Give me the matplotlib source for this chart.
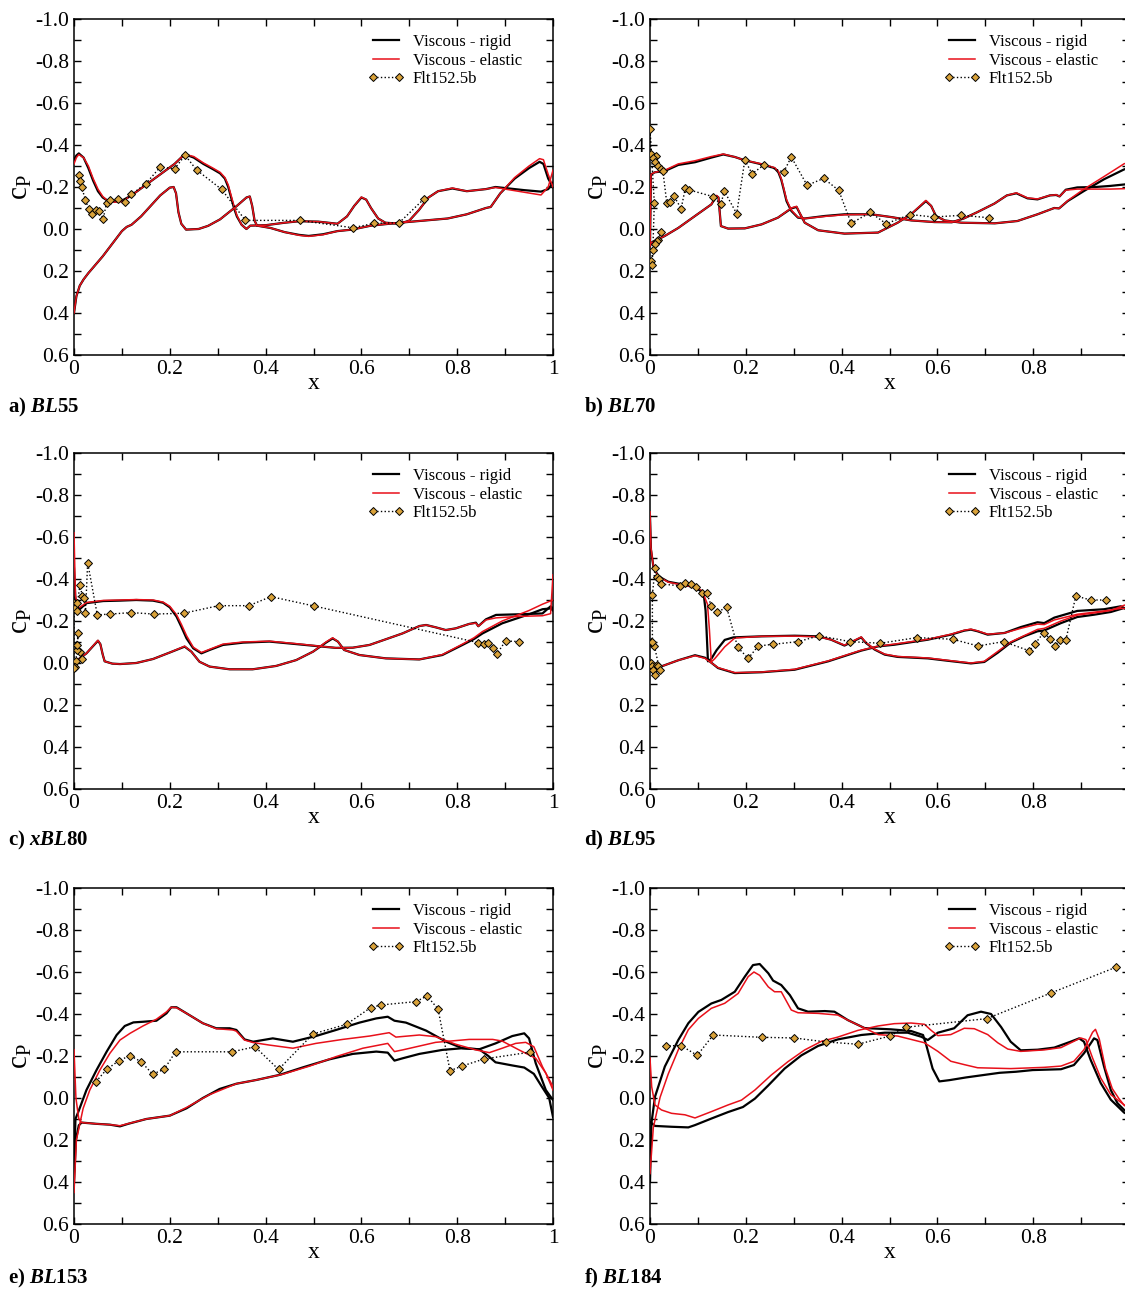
import numpy as np
import matplotlib
matplotlib.use("Agg")
import matplotlib.pyplot as plt
from matplotlib.lines import Line2D
from matplotlib.ticker import MultipleLocator, FuncFormatter

plt.rcParams["font.family"] = ["Liberation Serif", "DejaVu Serif"]
plt.rcParams["mathtext.fontset"] = "custom"
plt.rcParams["mathtext.rm"] = "Liberation Serif"
plt.rcParams["mathtext.it"] = "Liberation Serif:italic"
plt.rcParams["mathtext.bf"] = "Liberation Serif:bold"
plt.rcParams["mathtext.bfit"] = "Liberation Serif:bold:italic"
plt.rcParams["axes.unicode_minus"] = False

# ---- panel a) BL55 -------------------------------------------------------
A_RIG_S1 = [(0.0, -0.33), (0.005, -0.35), (0.01, -0.36), (0.02, -0.34), (0.03, -0.29), (0.04, -0.23),
            (0.05, -0.18), (0.06, -0.15), (0.07, -0.135), (0.085, -0.13), (0.1, -0.135), (0.12, -0.16),
            (0.15, -0.21), (0.18, -0.26), (0.21, -0.31), (0.231, -0.356), (0.25, -0.34), (0.27, -0.31),
            (0.29, -0.285), (0.305, -0.265), (0.315, -0.24), (0.322, -0.2), (0.328, -0.15), (0.334, -0.1),
            (0.34, -0.06), (0.35, -0.02), (0.36, 0.0), (0.368, -0.016), (0.40, -0.018), (0.44, -0.03),
            (0.47, -0.037), (0.51, -0.035), (0.55, -0.025), (0.57, -0.06), (0.585, -0.11), (0.6, -0.15),
            (0.61, -0.14), (0.62, -0.1), (0.635, -0.05), (0.65, -0.03), (0.68, -0.025), (0.7, -0.04),
            (0.72, -0.09), (0.74, -0.15), (0.76, -0.18), (0.79, -0.193), (0.82, -0.18), (0.84, -0.185),
            (0.86, -0.19), (0.88, -0.2), (0.9, -0.195), (0.94, -0.185), (0.975, -0.178), (0.99, -0.19),
            (1.0, -0.22)]
A_RIG_S2 = [(0.0, 0.4), (0.005, 0.32), (0.012, 0.27), (0.02, 0.24), (0.03, 0.21), (0.045, 0.17), (0.06, 0.13),
            (0.08, 0.07), (0.1, 0.01), (0.11, -0.01), (0.12, -0.02), (0.14, -0.06), (0.16, -0.11), (0.18, -0.16),
            (0.2, -0.197), (0.208, -0.2), (0.213, -0.17), (0.218, -0.08), (0.224, -0.025), (0.234, 0.003),
            (0.26, 0.0), (0.28, -0.015), (0.305, -0.046), (0.34, -0.11), (0.36, -0.15), (0.367, -0.155),
            (0.372, -0.11), (0.377, -0.04), (0.382, -0.016), (0.41, -0.005), (0.44, 0.015), (0.47, 0.028),
            (0.49, 0.033), (0.52, 0.025), (0.55, 0.01), (0.58, 0.003), (0.62, -0.016), (0.68, -0.03),
            (0.73, -0.04), (0.78, -0.05), (0.82, -0.07), (0.86, -0.1), (0.87, -0.105), (0.89, -0.17),
            (0.92, -0.24), (0.95, -0.29), (0.972, -0.32), (0.98, -0.31), (0.99, -0.24), (1.0, -0.2)]
A_ELA_S1 = [(0.0, -0.31), (0.005, -0.34), (0.01, -0.355), (0.02, -0.34), (0.03, -0.3), (0.04, -0.24),
            (0.05, -0.19), (0.06, -0.155), (0.07, -0.135), (0.085, -0.128), (0.1, -0.13), (0.12, -0.16),
            (0.15, -0.21), (0.18, -0.26), (0.21, -0.31), (0.231, -0.356), (0.25, -0.345), (0.27, -0.315),
            (0.29, -0.29), (0.305, -0.27), (0.315, -0.245), (0.322, -0.21), (0.328, -0.16), (0.334, -0.11),
            (0.34, -0.065), (0.35, -0.02), (0.36, 0.0), (0.368, -0.016), (0.40, -0.018), (0.44, -0.03),
            (0.47, -0.037), (0.51, -0.035), (0.55, -0.025), (0.57, -0.06), (0.585, -0.11), (0.6, -0.152),
            (0.61, -0.14), (0.62, -0.1), (0.635, -0.05), (0.65, -0.03), (0.68, -0.025), (0.7, -0.04),
            (0.72, -0.09), (0.74, -0.15), (0.76, -0.18), (0.79, -0.195), (0.82, -0.18), (0.84, -0.185),
            (0.86, -0.19), (0.88, -0.198), (0.9, -0.19), (0.94, -0.175), (0.975, -0.162), (0.99, -0.2),
            (1.0, -0.28)]
A_ELA_S2 = [(0.0, 0.4), (0.005, 0.32), (0.012, 0.27), (0.02, 0.24), (0.03, 0.21), (0.045, 0.17), (0.06, 0.13),
            (0.08, 0.07), (0.1, 0.01), (0.11, -0.01), (0.12, -0.02), (0.14, -0.06), (0.16, -0.11), (0.18, -0.16),
            (0.2, -0.197), (0.208, -0.2), (0.213, -0.17), (0.218, -0.08), (0.224, -0.025), (0.234, 0.003),
            (0.26, 0.0), (0.28, -0.015), (0.305, -0.046), (0.34, -0.11), (0.36, -0.15), (0.367, -0.155),
            (0.372, -0.11), (0.377, -0.04), (0.382, -0.016), (0.41, -0.005), (0.44, 0.015), (0.47, 0.03),
            (0.49, 0.035), (0.52, 0.027), (0.55, 0.01), (0.58, 0.003), (0.62, -0.016), (0.68, -0.03),
            (0.73, -0.04), (0.78, -0.05), (0.82, -0.07), (0.86, -0.1), (0.87, -0.105), (0.89, -0.17),
            (0.92, -0.245), (0.95, -0.3), (0.972, -0.335), (0.98, -0.33), (0.99, -0.26), (1.0, -0.2)]
A_EXP = [(0.010, -0.256), (0.0125, -0.229), (0.016, -0.2), (0.024, -0.137), (0.031, -0.094), (0.038, -0.073),
         (0.045, -0.089), (0.053, -0.086), (0.061, -0.049), (0.068, -0.125), (0.076, -0.14), (0.091, -0.141),
         (0.106, -0.13), (0.12, -0.165), (0.15, -0.216), (0.18, -0.295), (0.21, -0.287), (0.232, -0.351),
         (0.256, -0.281), (0.308, -0.189), (0.358, -0.041), (0.471, -0.041), (0.582, -0.006), (0.627, -0.027),
         (0.679, -0.03), (0.731, -0.144)]

# ---- panel b) BL70 -------------------------------------------------------
B_RIG_S1 = [(0.0, 0.08), (0.002, -0.26), (0.01, -0.27), (0.031, -0.276), (0.059, -0.305), (0.094, -0.318),
            (0.128, -0.34), (0.153, -0.355), (0.177, -0.343), (0.198, -0.327), (0.233, -0.308), (0.26, -0.29),
            (0.268, -0.27), (0.274, -0.235), (0.279, -0.19), (0.285, -0.133), (0.295, -0.086), (0.309, -0.054),
            (0.323, -0.05), (0.365, -0.062), (0.406, -0.07), (0.462, -0.07), (0.503, -0.057), (0.545, -0.041),
            (0.594, -0.033), (0.63, -0.032), (0.655, -0.05), (0.684, -0.081), (0.719, -0.121), (0.745, -0.16),
            (0.765, -0.17), (0.788, -0.146), (0.809, -0.141), (0.835, -0.16), (0.848, -0.162), (0.855, -0.155),
            (0.868, -0.187), (0.892, -0.198), (0.93, -0.2), (0.96, -0.205), (0.99, -0.212), (1.0, -0.215)]
B_RIG_S2 = [(0.0, 0.08), (0.003, 0.065), (0.031, 0.033), (0.059, -0.005), (0.094, -0.062), (0.128, -0.117),
            (0.139, -0.157), (0.143, -0.15), (0.148, -0.014), (0.163, -0.002), (0.198, -0.003), (0.233, -0.022),
            (0.267, -0.054), (0.295, -0.098), (0.306, -0.105), (0.312, -0.078), (0.323, -0.03), (0.351, 0.006),
            (0.406, 0.022), (0.476, 0.017), (0.517, -0.03), (0.545, -0.07), (0.576, -0.133), (0.587, -0.11),
            (0.597, -0.062), (0.615, -0.041), (0.65, -0.03), (0.72, -0.027), (0.767, -0.038), (0.809, -0.07),
            (0.844, -0.1), (0.854, -0.098), (0.872, -0.133), (0.906, -0.181), (0.948, -0.237), (0.99, -0.284),
            (1.0, -0.29)]
B_ELA_S1 = [(0.0, 0.08), (0.002, -0.26), (0.01, -0.27), (0.031, -0.28), (0.059, -0.31), (0.094, -0.325),
            (0.128, -0.345), (0.153, -0.357), (0.177, -0.343), (0.198, -0.327), (0.233, -0.31), (0.26, -0.292),
            (0.268, -0.275), (0.274, -0.24), (0.279, -0.195), (0.285, -0.14), (0.295, -0.09), (0.309, -0.056),
            (0.323, -0.05), (0.365, -0.06), (0.406, -0.068), (0.462, -0.07), (0.503, -0.057), (0.545, -0.041),
            (0.594, -0.033), (0.63, -0.032), (0.655, -0.05), (0.684, -0.081), (0.719, -0.121), (0.745, -0.16),
            (0.765, -0.172), (0.788, -0.148), (0.809, -0.143), (0.835, -0.16), (0.848, -0.163), (0.855, -0.155),
            (0.868, -0.185), (0.892, -0.19), (0.93, -0.19), (0.96, -0.19), (0.99, -0.192), (1.0, -0.195)]
B_ELA_S2 = [(0.0, 0.08), (0.003, 0.065), (0.031, 0.033), (0.059, -0.005), (0.094, -0.062), (0.128, -0.117),
            (0.139, -0.16), (0.143, -0.15), (0.148, -0.014), (0.163, -0.002), (0.198, -0.003), (0.233, -0.022),
            (0.267, -0.054), (0.295, -0.1), (0.306, -0.108), (0.312, -0.08), (0.323, -0.03), (0.351, 0.006),
            (0.406, 0.022), (0.476, 0.017), (0.517, -0.03), (0.545, -0.07), (0.576, -0.136), (0.587, -0.11),
            (0.597, -0.062), (0.615, -0.041), (0.65, -0.03), (0.72, -0.027), (0.767, -0.038), (0.809, -0.07),
            (0.844, -0.1), (0.854, -0.098), (0.872, -0.135), (0.906, -0.19), (0.948, -0.25), (0.99, -0.311),
            (1.0, -0.315)]
B_EXP = [(0.023, 0.013), (0.017, 0.054), (0.014, 0.057), (0.010, 0.073), (0.007, 0.098), (0.002, 0.152),
         (0.005, 0.171), (0.009, -0.125), (0.0, -0.475), (0.002, -0.356), (0.012, -0.348), (0.007, -0.34),
         (0.010, -0.317), (0.017, -0.302), (0.024, -0.286), (0.027, -0.274), (0.035, -0.125), (0.042, -0.128),
         (0.05, -0.157), (0.065, -0.097), (0.074, -0.197), (0.082, -0.186), (0.132, -0.154), (0.148, -0.117),
         (0.155, -0.181), (0.181, -0.073), (0.198, -0.329), (0.213, -0.263), (0.238, -0.305), (0.279, -0.271),
         (0.295, -0.343), (0.328, -0.208), (0.3625, -0.241), (0.394, -0.184), (0.42, -0.027), (0.46, -0.079),
         (0.493, -0.025), (0.543, -0.069), (0.592, -0.057), (0.649, -0.065), (0.707, -0.054)]

# ---- panel c) xBL80 ------------------------------------------------------
C_RIG_S1 = [(0.0, -0.45), (0.003, -0.3), (0.009, -0.25), (0.026, -0.285), (0.061, -0.295), (0.096, -0.297),
            (0.13, -0.3), (0.165, -0.297), (0.186, -0.287), (0.2, -0.265), (0.214, -0.221), (0.224, -0.173),
            (0.235, -0.117), (0.249, -0.07), (0.266, -0.046), (0.283, -0.062), (0.311, -0.086), (0.353, -0.097),
            (0.408, -0.102), (0.464, -0.09), (0.505, -0.081), (0.547, -0.072), (0.582, -0.073), (0.617, -0.086),
            (0.651, -0.113), (0.686, -0.141), (0.721, -0.176), (0.735, -0.181), (0.755, -0.17), (0.776, -0.157),
            (0.797, -0.165), (0.825, -0.186), (0.839, -0.192), (0.844, -0.175), (0.86, -0.208), (0.881, -0.229),
            (0.929, -0.232), (0.978, -0.236), (0.995, -0.27), (1.0, -0.26)]
C_RIG_S2 = [(0.0, 0.02), (0.005, -0.01), (0.026, -0.046), (0.05, -0.106), (0.055, -0.09), (0.06, -0.04),
            (0.064, -0.008), (0.08, 0.003), (0.096, 0.005), (0.13, 0.0), (0.165, -0.019), (0.2, -0.05),
            (0.231, -0.078), (0.245, -0.054), (0.262, -0.006), (0.283, 0.017), (0.325, 0.03), (0.373, 0.03),
            (0.422, 0.014), (0.464, -0.014), (0.499, -0.054), (0.526, -0.097), (0.54, -0.117), (0.551, -0.102),
            (0.564, -0.062), (0.596, -0.038), (0.651, -0.022), (0.721, -0.017), (0.769, -0.038), (0.811, -0.086),
            (0.835, -0.114), (0.853, -0.141), (0.894, -0.189), (0.95, -0.232), (0.978, -0.256), (0.995, -0.26),
            (1.0, -0.25)]
C_ELA_S1 = [(0.0, -0.62), (0.003, -0.32), (0.009, -0.26), (0.026, -0.288), (0.061, -0.298), (0.096, -0.3),
            (0.13, -0.302), (0.165, -0.3), (0.186, -0.29), (0.2, -0.27), (0.214, -0.23), (0.224, -0.185),
            (0.235, -0.13), (0.249, -0.075), (0.266, -0.05), (0.283, -0.065), (0.311, -0.09), (0.353, -0.1),
            (0.408, -0.104), (0.464, -0.092), (0.505, -0.082), (0.547, -0.072), (0.582, -0.073), (0.617, -0.086),
            (0.651, -0.113), (0.686, -0.141), (0.721, -0.176), (0.735, -0.181), (0.755, -0.17), (0.776, -0.157),
            (0.797, -0.165), (0.825, -0.186), (0.839, -0.19), (0.844, -0.175), (0.86, -0.205), (0.881, -0.215),
            (0.929, -0.222), (0.978, -0.225), (0.995, -0.235), (1.0, -0.42)]
C_ELA_S2 = [(0.0, 0.02), (0.005, -0.01), (0.026, -0.046), (0.05, -0.108), (0.055, -0.09), (0.06, -0.04),
            (0.064, -0.008), (0.08, 0.003), (0.096, 0.005), (0.13, 0.0), (0.165, -0.019), (0.2, -0.05),
            (0.231, -0.08), (0.245, -0.054), (0.262, -0.006), (0.283, 0.017), (0.325, 0.03), (0.373, 0.03),
            (0.422, 0.014), (0.464, -0.014), (0.499, -0.054), (0.526, -0.1), (0.54, -0.12), (0.551, -0.102),
            (0.564, -0.062), (0.596, -0.038), (0.651, -0.022), (0.721, -0.017), (0.769, -0.04), (0.811, -0.09),
            (0.835, -0.12), (0.853, -0.15), (0.894, -0.2), (0.95, -0.25), (0.978, -0.28), (1.0, -0.3)]
C_EXP = [(0.016, -0.019), (0.0125, -0.051), (0.007, -0.06), (0.0056, -0.086), (0.009, -0.144), (0.004, -0.008),
         (0.002, 0.02), (0.0, 0.023), (0.0, -0.287), (0.002, -0.26), (0.0056, -0.249), (0.007, -0.284),
         (0.0125, -0.371), (0.0174, -0.319), (0.0208, -0.311), (0.024, -0.24), (0.0285, -0.478), (0.0486, -0.229),
         (0.075, -0.233), (0.12, -0.24), (0.167, -0.233), (0.229, -0.237), (0.302, -0.273), (0.365, -0.273),
         (0.411, -0.316), (0.502, -0.271), (0.844, -0.097), (0.856, -0.09), (0.865, -0.097), (0.874, -0.071),
         (0.883, -0.044), (0.901, -0.105), (0.929, -0.102)]

# ---- panel d) BL95 -------------------------------------------------------
D_RIG_S1 = [(0.0, -0.70), (0.002, -0.54), (0.007, -0.46), (0.017, -0.414), (0.038, -0.387), (0.066, -0.375),
            (0.094, -0.36), (0.108, -0.34), (0.113, -0.31), (0.116, -0.25), (0.118, -0.159), (0.121, -0.008),
            (0.128, -0.02), (0.139, -0.061), (0.156, -0.11), (0.174, -0.122), (0.233, -0.127), (0.302, -0.13),
            (0.351, -0.127), (0.378, -0.111), (0.406, -0.083), (0.424, -0.103), (0.441, -0.122), (0.451, -0.095),
            (0.469, -0.064), (0.49, -0.04), (0.517, -0.029), (0.58, -0.022), (0.628, -0.009), (0.67, 0.002),
            (0.698, -0.005), (0.726, -0.049), (0.753, -0.097), (0.781, -0.127), (0.809, -0.151), (0.823, -0.155),
            (0.858, -0.19), (0.892, -0.219), (0.927, -0.23), (0.962, -0.243), (0.99, -0.262), (1.0, -0.25)]
D_RIG_S2 = [(0.0, 0.033), (0.024, 0.016), (0.059, -0.013), (0.094, -0.037), (0.115, -0.025), (0.142, 0.024),
            (0.177, 0.048), (0.233, 0.044), (0.302, 0.032), (0.372, -0.008), (0.441, -0.059), (0.476, -0.079),
            (0.51, -0.087), (0.58, -0.111), (0.628, -0.135), (0.656, -0.154), (0.67, -0.159), (0.684, -0.151),
            (0.705, -0.135), (0.74, -0.143), (0.774, -0.171), (0.809, -0.194), (0.823, -0.19), (0.844, -0.216),
            (0.892, -0.248), (0.948, -0.256), (0.983, -0.27), (1.0, -0.25)]
D_ELA_S1 = [(0.0, -0.72), (0.002, -0.55), (0.007, -0.46), (0.017, -0.412), (0.038, -0.385), (0.066, -0.372),
            (0.094, -0.36), (0.108, -0.345), (0.113, -0.32), (0.12, -0.28), (0.124, -0.16), (0.128, -0.005),
            (0.135, -0.02), (0.156, -0.077), (0.177, -0.119), (0.233, -0.127), (0.302, -0.128), (0.351, -0.125),
            (0.378, -0.111), (0.406, -0.085), (0.424, -0.105), (0.441, -0.124), (0.451, -0.097), (0.469, -0.066),
            (0.49, -0.042), (0.517, -0.031), (0.58, -0.024), (0.628, -0.011), (0.67, 0.0), (0.698, -0.008),
            (0.726, -0.055), (0.753, -0.1), (0.781, -0.13), (0.809, -0.16), (0.823, -0.165), (0.858, -0.2),
            (0.892, -0.228), (0.927, -0.238), (0.962, -0.25), (0.99, -0.275), (1.0, -0.28)]
D_ELA_S2 = [(0.0, 0.033), (0.024, 0.016), (0.059, -0.013), (0.094, -0.035), (0.115, -0.022), (0.142, 0.022),
            (0.177, 0.046), (0.233, 0.043), (0.302, 0.03), (0.372, -0.01), (0.441, -0.061), (0.476, -0.08),
            (0.51, -0.09), (0.58, -0.113), (0.628, -0.137), (0.656, -0.156), (0.67, -0.161), (0.684, -0.153),
            (0.705, -0.137), (0.74, -0.143), (0.774, -0.165), (0.809, -0.185), (0.823, -0.183), (0.844, -0.205),
            (0.892, -0.232), (0.948, -0.248), (0.983, -0.26), (1.0, -0.26)]
D_EXP = [(0.002, 0.0), (0.005, 0.016), (0.007, 0.032), (0.010, 0.056), (0.014, 0.008), (0.017, 0.016),
         (0.020, 0.032), (0.009, -0.083), (0.002, -0.102), (0.005, -0.102), (0.005, -0.324), (0.0104, -0.451),
         (0.014, -0.408), (0.019, -0.398), (0.023, -0.376), (0.0625, -0.368), (0.074, -0.379), (0.085, -0.375),
         (0.097, -0.364), (0.108, -0.332), (0.118, -0.335), (0.128, -0.273), (0.139, -0.241), (0.16, -0.265),
         (0.183, -0.075), (0.205, -0.022), (0.226, -0.081), (0.257, -0.089), (0.31, -0.102), (0.353, -0.13),
         (0.417, -0.102), (0.481, -0.094), (0.557, -0.121), (0.632, -0.113), (0.685, -0.081), (0.738, -0.102),
         (0.792, -0.058), (0.803, -0.089), (0.822, -0.145), (0.835, -0.115), (0.845, -0.083), (0.856, -0.108),
         (0.868, -0.108), (0.889, -0.319), (0.92, -0.3), (0.951, -0.3)]

# ---- panel e) BL153 ------------------------------------------------------
E_RIG_S1 = [(0.0, 0.35), (0.003, 0.1), (0.01, 0.06), (0.026, -0.038), (0.047, -0.133), (0.068, -0.22),
            (0.089, -0.3), (0.106, -0.343), (0.124, -0.36), (0.144, -0.363), (0.172, -0.368), (0.193, -0.403),
            (0.203, -0.432), (0.214, -0.432), (0.235, -0.403), (0.269, -0.356), (0.297, -0.332), (0.325, -0.332),
            (0.339, -0.324), (0.356, -0.279), (0.374, -0.268), (0.415, -0.284), (0.457, -0.268), (0.505, -0.295),
            (0.547, -0.324), (0.596, -0.359), (0.631, -0.379), (0.655, -0.387), (0.669, -0.368), (0.693, -0.359),
            (0.735, -0.321), (0.777, -0.268), (0.811, -0.237), (0.846, -0.232), (0.88, -0.26), (0.915, -0.295),
            (0.94, -0.308), (0.95, -0.284), (0.964, -0.165), (0.985, -0.038), (1.0, 0.01)]
E_RIG_S2 = [(0.0, 0.4), (0.004, 0.2), (0.01, 0.13), (0.016, 0.117), (0.047, 0.123), (0.075, 0.127),
            (0.096, 0.135), (0.113, 0.123), (0.151, 0.1), (0.2, 0.084), (0.235, 0.049), (0.269, 0.0),
            (0.304, -0.043), (0.339, -0.068), (0.381, -0.086), (0.429, -0.11), (0.478, -0.146), (0.533, -0.184),
            (0.582, -0.21), (0.631, -0.221), (0.655, -0.216), (0.669, -0.178), (0.686, -0.189), (0.721, -0.21),
            (0.769, -0.229), (0.811, -0.237), (0.846, -0.232), (0.865, -0.2), (0.88, -0.17), (0.915, -0.155),
            (0.94, -0.145), (0.96, -0.115), (0.975, -0.06), (0.992, 0.0), (1.0, 0.09)]
E_ELA_S1 = [(0.0, 0.45), (0.005, 0.2), (0.019, 0.05), (0.033, -0.038), (0.054, -0.133), (0.075, -0.213),
            (0.096, -0.276), (0.117, -0.308), (0.144, -0.343), (0.172, -0.375), (0.193, -0.41), (0.203, -0.432),
            (0.214, -0.43), (0.235, -0.403), (0.269, -0.356), (0.297, -0.33), (0.332, -0.324), (0.339, -0.318),
            (0.356, -0.276), (0.374, -0.264), (0.408, -0.252), (0.457, -0.237), (0.505, -0.26), (0.561, -0.279),
            (0.617, -0.295), (0.658, -0.311), (0.672, -0.29), (0.721, -0.3), (0.755, -0.292), (0.797, -0.256),
            (0.839, -0.229), (0.867, -0.216), (0.894, -0.237), (0.922, -0.26), (0.943, -0.265), (0.96, -0.244),
            (0.978, -0.149), (1.0, -0.054)]
E_ELA_S2 = [(0.0, -0.23), (0.004, 0.0), (0.01, 0.1), (0.016, 0.117), (0.047, 0.123), (0.075, 0.127),
            (0.096, 0.132), (0.113, 0.122), (0.151, 0.1), (0.2, 0.084), (0.235, 0.045), (0.283, -0.016),
            (0.339, -0.068), (0.381, -0.086), (0.436, -0.113), (0.492, -0.152), (0.547, -0.197), (0.603, -0.237),
            (0.655, -0.26), (0.669, -0.221), (0.686, -0.229), (0.755, -0.265), (0.825, -0.279), (0.874, -0.279),
            (0.894, -0.271), (0.929, -0.229), (0.964, -0.189), (0.985, -0.118), (1.0, -0.038)]
E_EXP = [(0.046, -0.078), (0.068, -0.136), (0.094, -0.178), (0.117, -0.202), (0.14, -0.173), (0.164, -0.114),
         (0.188, -0.136), (0.212, -0.22), (0.33, -0.22), (0.378, -0.244), (0.427, -0.136), (0.499, -0.305),
         (0.569, -0.351), (0.619, -0.43), (0.641, -0.443), (0.714, -0.459), (0.737, -0.486), (0.76, -0.424),
         (0.785, -0.13), (0.81, -0.152), (0.856, -0.186), (0.952, -0.218)]

# ---- panel f) BL184 ------------------------------------------------------
F_RIG_S1 = [(0.0, 0.4), (0.003, 0.12), (0.0104, -0.006), (0.031, -0.15), (0.059, -0.276), (0.08, -0.356),
            (0.101, -0.41), (0.128, -0.45), (0.149, -0.467), (0.177, -0.506), (0.198, -0.578), (0.215, -0.633),
            (0.229, -0.638), (0.247, -0.594), (0.257, -0.559), (0.274, -0.538), (0.292, -0.49), (0.309, -0.427),
            (0.33, -0.411), (0.365, -0.414), (0.385, -0.411), (0.413, -0.371), (0.448, -0.333), (0.503, -0.327),
            (0.545, -0.319), (0.57, -0.3), (0.577, -0.25), (0.59, -0.14), (0.604, -0.079), (0.625, -0.085),
            (0.66, -0.098), (0.73, -0.12), (0.764, -0.125), (0.799, -0.133), (0.858, -0.137), (0.885, -0.157),
            (0.906, -0.213), (0.92, -0.26), (0.927, -0.284), (0.934, -0.276), (0.948, -0.149), (0.962, -0.038),
            (0.976, 0.025), (0.99, 0.057), (1.0, 0.07)]
F_RIG_S2 = [(0.0, 0.113), (0.0104, 0.133), (0.045, 0.137), (0.08, 0.14), (0.094, 0.129), (0.128, 0.098),
            (0.163, 0.067), (0.194, 0.043), (0.219, 0.003), (0.247, -0.06), (0.281, -0.14), (0.316, -0.203),
            (0.351, -0.248), (0.392, -0.279), (0.441, -0.3), (0.49, -0.311), (0.538, -0.311), (0.566, -0.292),
            (0.58, -0.276), (0.601, -0.311), (0.635, -0.332), (0.663, -0.394), (0.691, -0.411), (0.712, -0.4),
            (0.733, -0.338), (0.753, -0.268), (0.774, -0.227), (0.809, -0.23), (0.844, -0.24), (0.878, -0.268),
            (0.896, -0.284), (0.906, -0.268), (0.92, -0.181), (0.941, -0.071), (0.962, 0.008), (0.99, 0.07),
            (1.0, 0.08)]
F_ELA_S1 = [(0.0, 0.36), (0.007, 0.14), (0.021, -0.003), (0.038, -0.114), (0.059, -0.229), (0.08, -0.325),
            (0.101, -0.379), (0.128, -0.427), (0.156, -0.451), (0.184, -0.498), (0.205, -0.578), (0.217, -0.6),
            (0.229, -0.584), (0.247, -0.529), (0.26, -0.506), (0.274, -0.506), (0.295, -0.419), (0.309, -0.406),
            (0.351, -0.403), (0.392, -0.395), (0.42, -0.363), (0.448, -0.333), (0.476, -0.302), (0.517, -0.295),
            (0.545, -0.279), (0.573, -0.263), (0.601, -0.222), (0.628, -0.175), (0.656, -0.159), (0.684, -0.144),
            (0.753, -0.14), (0.823, -0.146), (0.858, -0.152), (0.885, -0.175), (0.906, -0.23), (0.924, -0.313),
            (0.93, -0.327), (0.938, -0.28), (0.951, -0.14), (0.965, -0.045), (0.979, 0.003), (0.99, 0.035),
            (1.0, 0.05)]
F_ELA_S2 = [(0.0, -0.19), (0.0035, -0.054), (0.0104, 0.033), (0.024, 0.057), (0.045, 0.073), (0.073, 0.08),
            (0.094, 0.095), (0.128, 0.065), (0.163, 0.033), (0.191, 0.01), (0.219, -0.038), (0.253, -0.109),
            (0.288, -0.173), (0.323, -0.229), (0.358, -0.27), (0.392, -0.29), (0.434, -0.322), (0.476, -0.343),
            (0.51, -0.354), (0.545, -0.357), (0.573, -0.351), (0.587, -0.322), (0.601, -0.297), (0.628, -0.302),
            (0.656, -0.332), (0.677, -0.33), (0.705, -0.302), (0.726, -0.263), (0.747, -0.233), (0.774, -0.222),
            (0.823, -0.229), (0.858, -0.24), (0.885, -0.27), (0.899, -0.286), (0.91, -0.278), (0.924, -0.19),
            (0.941, -0.095), (0.962, -0.016), (0.99, 0.033), (1.0, 0.04)]
F_EXP = [(0.0326, -0.248), (0.0646, -0.25), (0.0986, -0.203), (0.132, -0.3), (0.233, -0.289), (0.301, -0.286),
         (0.367, -0.267), (0.434, -0.256), (0.501, -0.295), (0.535, -0.337), (0.703, -0.378), (0.838, -0.501),
         (0.972, -0.622)]

CAPTIONS = [r"$\mathbf{a)}\ \mathbfit{BL}\mathbf{55}$", r"$\mathbf{b)}\ \mathbfit{BL}\mathbf{70}$",
            r"$\mathbf{c)}\ \mathbfit{xBL}\mathbf{80}$", r"$\mathbf{d)}\ \mathbfit{BL}\mathbf{95}$",
            r"$\mathbf{e)}\ \mathbfit{BL}\mathbf{153}$", r"$\mathbf{f)}\ \mathbfit{BL}\mathbf{184}$"]
LABELS = ["Viscous - rigid", "Viscous - elastic", "Flt152.5b"]

RED = "#e8101a"
GOLD = "#d9a23a"

W, H = 1125, 1290


def xy(pairs):
    arr = np.array(pairs, dtype=float)
    return arr[:, 0], arr[:, 1]


def fmt_y(v, pos):
    if abs(v) < 1e-9:
        return "0.0"
    return f"{v:.1f}"


def make_fmt_x(show_one):
    def fmt(v, pos):
        if abs(v) < 1e-9:
            return "0"
        if abs(v - 1) < 1e-9:
            return "1" if show_one else ""
        return f"{v:.1f}"
    return fmt


def draw_panel(fig, rect, rig, ela, exp, caption, cap_xy, right_col):
    ax = fig.add_axes(rect)
    for s in rig:
        ax.plot(*xy(s), color="black", lw=1.6, zorder=2)
    for s in ela:
        ax.plot(*xy(s), color=RED, lw=1.1, zorder=3)
    ex, ecp = xy(exp)
    ax.plot(ex, ecp, color="black", ls=":", lw=1.0, marker="D", ms=3.6,
            mfc=GOLD, mec="black", mew=0.7, zorder=4)

    ax.set_xlim(0, 1)
    ax.set_ylim(0.6, -1.0)
    ax.xaxis.set_major_locator(MultipleLocator(0.2))
    ax.xaxis.set_minor_locator(MultipleLocator(0.1))
    ax.yaxis.set_major_locator(MultipleLocator(0.2))
    ax.yaxis.set_minor_locator(MultipleLocator(0.1))
    ax.xaxis.set_major_formatter(FuncFormatter(make_fmt_x(not right_col)))
    ax.yaxis.set_major_formatter(FuncFormatter(fmt_y))
    ax.tick_params(which="both", direction="in", top=True, right=True, length=5, width=1.0,
                   labelsize=15.5, pad=3.5)
    for sp in ax.spines.values():
        sp.set_linewidth(1.1)
    ax.set_xlabel("x", fontsize=17, labelpad=-4)
    ax.set_ylabel(r"$\mathrm{c}_\mathrm{P}$", fontsize=21, labelpad=1)

    handles = [Line2D([], [], color="black", lw=1.6),
               Line2D([], [], color=RED, lw=1.1),
               Line2D([], [], color="black", ls=":", lw=1.0, marker="D", ms=3.6,
                      mfc=GOLD, mec="black", mew=0.7)]
    ax.legend(handles, LABELS, loc="upper right", bbox_to_anchor=(0.935, 0.955), frameon=False,
              fontsize=12, handlelength=2.2, handletextpad=0.5, labelspacing=0.15, numpoints=2,
              borderpad=0, borderaxespad=0)

    fig.text(cap_xy[0], cap_xy[1], caption, fontsize=15, ha="left", va="center")
    return ax


fig = plt.figure(figsize=(W / 100, H / 100), dpi=100)

col_left = [74, 650]
row_top = [19, 453, 888]
ax_w, ax_h = 479, 336
cap_x = [8, 584]
cap_y = [407, 840, 1278]

panels = [
    ([A_RIG_S1, A_RIG_S2], [A_ELA_S1, A_ELA_S2], A_EXP),
    ([B_RIG_S1, B_RIG_S2], [B_ELA_S1, B_ELA_S2], B_EXP),
    ([C_RIG_S1, C_RIG_S2], [C_ELA_S1, C_ELA_S2], C_EXP),
    ([D_RIG_S1, D_RIG_S2], [D_ELA_S1, D_ELA_S2], D_EXP),
    ([E_RIG_S1, E_RIG_S2], [E_ELA_S1, E_ELA_S2], E_EXP),
    ([F_RIG_S1, F_RIG_S2], [F_ELA_S1, F_ELA_S2], F_EXP),
]

for i, (rig, ela, exp) in enumerate(panels):
    r, c = divmod(i, 2)
    left = col_left[c] / W
    bottom = 1 - (row_top[r] + ax_h) / H
    rect = [left, bottom, ax_w / W, ax_h / H]
    cap = (cap_x[c] / W, 1 - cap_y[r] / H)
    draw_panel(fig, rect, rig, ela, exp, CAPTIONS[i], cap, right_col=(c == 1))

fig.savefig("out.png", dpi=100)
